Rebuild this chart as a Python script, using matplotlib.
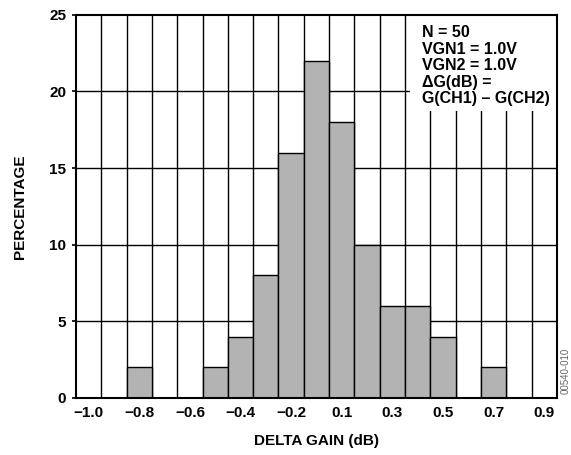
import matplotlib
matplotlib.use('Agg')
from matplotlib import pyplot as plt
import numpy as np

plt.rcParams['font.family'] = ['Liberation Sans', 'DejaVu Sans']
plt.rcParams['font.weight'] = 'bold'

# one bin per grid column, percentage of N = 50 parts
pct = [0, 0, 2, 0, 0, 2, 4, 8, 16, 22, 18, 10, 6, 6, 4, 0, 2, 0, 0]
tick_cols = [0, 2, 4, 6, 8, 10, 12, 14, 16, 18]
tick_text = ['\u22121.0', '\u22120.8', '\u22120.6', '\u22120.4', '\u22120.2',
             '0.1', '0.3', '0.5', '0.7', '0.9']
yticks = [0, 5, 10, 15, 20, 25]
notes = ['N = 50', 'VGN1 = 1.0V', 'VGN2 = 1.0V', '\u0394G(dB) =', 'G(CH1) \u2013 G(CH2)']

fig = plt.figure(figsize=(5.71, 4.55), dpi=100)
ax = fig.add_axes([0.133, 0.1253, 0.8425, 0.8424])

ncol = len(pct)
x = np.arange(ncol)
ax.set_xlim(-0.5, ncol - 0.5)
ax.set_ylim(0, 25)

# grid
for g in np.arange(ncol - 1) + 0.5:
    ax.axvline(g, color='black', lw=1.0, zorder=1)
for g in yticks[1:-1]:
    ax.axhline(g, color='black', lw=1.0, zorder=1)

ax.bar(x, pct, width=1.0, color='#b3b3b3', edgecolor='black', lw=1.0, zorder=2)

# white box behind the notes
ax.add_patch(plt.Rectangle((12.7, 18.75), 6.0, 6.5, facecolor='white',
                           edgecolor='none', zorder=3))
ty = 0.972
for s in notes:
    ax.text(0.72, ty, s, transform=ax.transAxes, fontsize=11.5, fontweight='bold',
            va='top', ha='left', zorder=4)
    ty -= 0.043

ax.set_xticks(tick_cols)
ax.set_xticklabels(tick_text)
ax.set_yticks(yticks)
ax.tick_params(axis='x', length=0, pad=6, labelsize=11)
ax.tick_params(axis='y', length=3, width=1.2, pad=4, labelsize=11)
for t in ax.get_xticklabels() + ax.get_yticklabels():
    t.set_fontweight('bold')

for sp in ax.spines.values():
    sp.set_linewidth(1.5)
    sp.set_zorder(5)

ax.set_xlabel('DELTA GAIN (dB)', fontsize=11, fontweight='bold', labelpad=10)
ax.set_ylabel('PERCENTAGE', fontsize=11, fontweight='bold', labelpad=16)

fig.text(0.991, 0.185, '00540-010', rotation=90, fontsize=7, color='#666666',
         fontweight='normal', ha='center', va='center')

plt.savefig('out.png', dpi=100)
